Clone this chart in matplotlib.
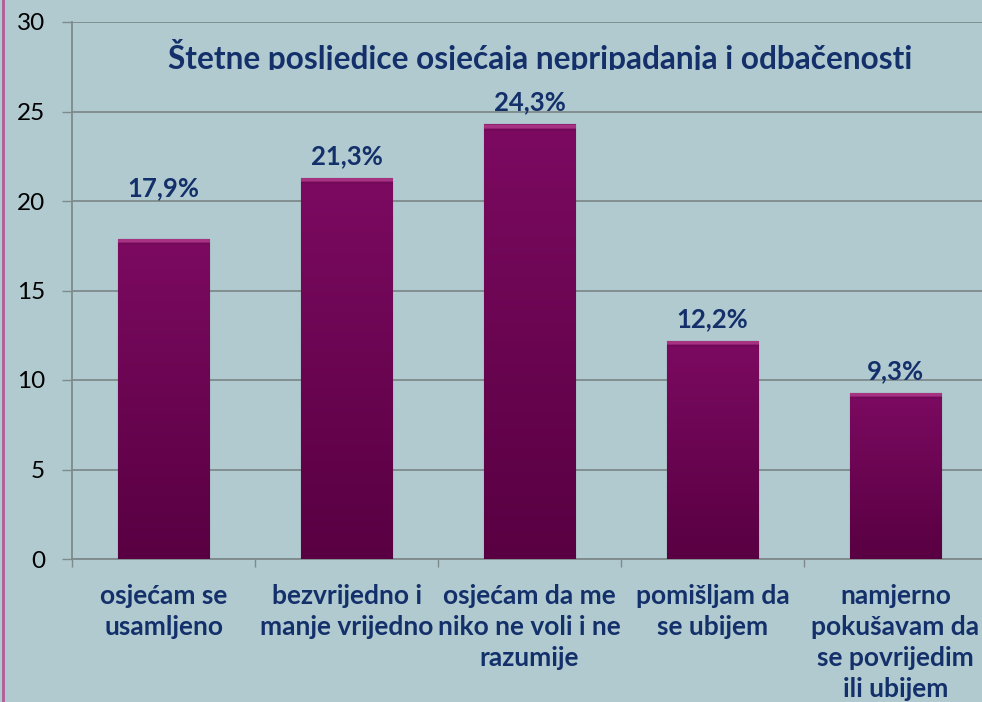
import numpy as np
import matplotlib.pyplot as plt
from matplotlib.colors import to_rgb
from matplotlib.patches import Rectangle
from matplotlib.lines import Line2D

categories = [
    "osjećam se\nusamljeno",
    "bezvrijedno i\nmanje vrijedno",
    "osjećam da me\nniko ne voli i ne\nrazumije",
    "pomišljam da\nse ubijem",
    "namjerno\npokušavam da\nse povrijedim\nili ubijem",
]
values = [17.9, 21.3, 24.3, 12.2, 9.3]
value_labels = ["17,9%", "21,3%", "24,3%", "12,2%", "9,3%"]
title = "Štetne posljedice osjećaja nepripadanja i odbačenosti"

BG = "#b0cacf"
NAVY = "#14306b"
GRID = "#7f8a8c"
BAR_TOP = "#7c0a61"
BAR_BOT = "#590042"
BEVEL = "#b4408e"

plt.rcParams["font.family"] = ["Lato", "DejaVu Sans"]

fig = plt.figure(figsize=(9.82, 7.02), dpi=100, facecolor=BG)
ax = fig.add_axes([72 / 982, 143 / 702, 915 / 982, 537 / 702])
ax.set_facecolor(BG)

x = np.arange(len(values))
bars = ax.bar(x, values, width=0.5, color=BAR_TOP, edgecolor="#4a0036",
              linewidth=0.8, zorder=3)

# vertical gradient with a soft light bevel along the top of each bar
px_per_unit = 537 / 30
c_top, c_bot, c_bev = (np.array(to_rgb(c)) for c in (BAR_TOP, BAR_BOT, BEVEL))
for b in bars:
    h = b.get_height()
    n = int(h * px_per_unit)
    t = np.linspace(0, 1, n)[:, None]
    img = c_top * (1 - t) + c_bot * t
    img[:1] = c_top * 0.6 + c_bev * 0.4
    img[1:4] = c_bev * 0.75 + c_top * 0.25
    img[4:5] = c_bev * 0.4 + c_top * 0.6
    img[5:7] = c_top * 0.92
    img = np.repeat(img[:, None, :], 2, axis=1)
    x0 = b.get_x()
    im = ax.imshow(img, extent=[x0, x0 + b.get_width(), 0, h], aspect="auto",
                   zorder=3.5, interpolation="nearest")
    im.set_clip_path(b)

ax.set_xlim(-0.5, len(values) - 0.5)
ax.set_ylim(0, 30)
ax.set_yticks(range(0, 31, 5))
ax.yaxis.grid(True, color=GRID, linewidth=1.3, zorder=0)
ax.set_axisbelow(True)

for s in ["top", "right"]:
    ax.spines[s].set_visible(False)
ax.spines["left"].set_color(GRID)
ax.spines["bottom"].set_color(GRID)
ax.spines["left"].set_linewidth(1.3)
ax.spines["bottom"].set_linewidth(1.3)

ax.tick_params(axis="y", length=7.5, width=1.0, color=GRID, labelsize=17.5,
               labelcolor="black", pad=12)
ax.set_xticks(x)
ax.set_xticklabels(categories, fontsize=19, fontweight="bold", color=NAVY,
                   linespacing=1.35)
ax.tick_params(axis="x", which="major", length=0, pad=18)
ax.set_xticks(np.arange(len(values) + 1) - 0.5, minor=True)
ax.tick_params(axis="x", which="minor", length=6, width=1.0, color=GRID)

# value labels (first one sits a bit higher in the original)
label_offsets = [28, 7, 7, 7, 7]
for xi, v, lab, off in zip(x, values, value_labels, label_offsets):
    ax.annotate(lab, (xi, v), xytext=(0, off), textcoords="offset points",
                ha="center", va="bottom", fontsize=18.5, fontweight="bold",
                color=NAVY, zorder=5)

# title, clipped just under the baseline like the original
t = fig.text(540 / 982, 1 - 69 / 702, title, ha="center", va="baseline",
             fontsize=22.8, fontweight="bold", color=NAVY)
clip = Rectangle((0, 1 - 70 / 702), 1, 70 / 702, transform=fig.transFigure)
t.set_clip_path(clip)

# pink border on the left
fig.add_artist(Line2D([3 / 982, 3 / 982], [0, 1], transform=fig.transFigure,
                      color="#b45a96", linewidth=2))

fig.savefig("out.png", dpi=100, facecolor=BG)
